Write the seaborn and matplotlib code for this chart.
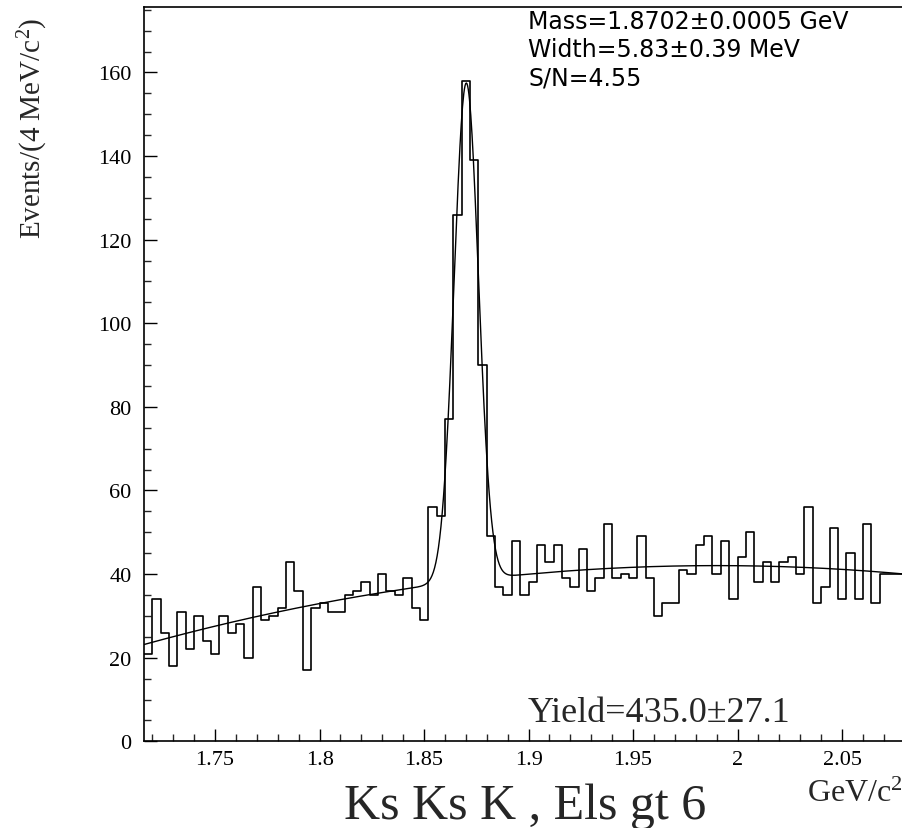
import numpy as np
import pandas as pd
import matplotlib
matplotlib.use("Agg")
import matplotlib.pyplot as plt
import seaborn as sns
from matplotlib.ticker import MultipleLocator

# ---------------- data ----------------
bin_low = 1.716          # GeV/c^2, left edge of first bin
bin_width = 0.004        # 4 MeV/c^2
counts = [21, 34, 26, 18, 31, 22, 30, 24, 21, 30, 26, 28, 20, 37, 29, 30, 32, 43, 36, 17,
          32, 33, 31, 31, 35, 36, 38, 35, 40, 36, 35, 39, 32, 29, 56, 54, 77, 126, 158, 139,
          90, 49, 37, 35, 48, 35, 38, 47, 43, 47, 39, 37, 46, 36, 39, 52, 39, 40, 39, 49,
          39, 30, 33, 33, 41, 40, 47, 49, 40, 48, 34, 44, 50, 38, 43, 38, 43, 44, 40, 56,
          33, 37, 51, 34, 45, 34, 52, 33, 40, 40, 40]

# fit parameters
fit_mass = 1.8702        # GeV
fit_sigma = 0.00583      # GeV
fit_yield = 435.0
bg_ref = 1.72
bg_coef = [23.7, 135.75, -251.3]   # quadratic background

x_ticks = [1.75, 1.8, 1.85, 1.9, 1.95, 2.0, 2.05]
x_ticklabels = ["1.75", "1.8", "1.85", "1.9", "1.95", "2", "2.05"]
y_ticks = [0, 20, 40, 60, 80, 100, 120, 140, 160]

stats_lines = ["Mass=1.8702\u00b10.0005 GeV", "Width=5.83\u00b10.39 MeV", "S/N=4.55"]
yield_text = "Yield=435.0\u00b127.1"
title_text = "Ks Ks K , Els gt 6"

# ---------------- build frames ----------------
nb = len(counts)
edges = bin_low + bin_width * np.arange(nb + 1)
centers = 0.5 * (edges[:-1] + edges[1:])
hist_df = pd.DataFrame({"mass": centers, "n": np.array(counts, dtype=float)})

xf = np.linspace(edges[0], edges[-1], 1200)
t = xf - bg_ref
bg = bg_coef[0] + bg_coef[1] * t + bg_coef[2] * t ** 2
amp = fit_yield * bin_width / (np.sqrt(2 * np.pi) * fit_sigma)
fit = bg + amp * np.exp(-0.5 * ((xf - fit_mass) / fit_sigma) ** 2)
fit_df = pd.DataFrame({"mass": xf, "fit": fit})

# ---------------- plot ----------------
sns.set_theme(style="ticks")
plt.rcParams["font.family"] = ["Liberation Serif", "DejaVu Serif"]
plt.rcParams["mathtext.fontset"] = "custom"
plt.rcParams["mathtext.rm"] = "Liberation Serif"
plt.rcParams["mathtext.it"] = "Liberation Serif"

W, H = 903, 829
fig = plt.figure(figsize=(W / 100, H / 100), dpi=100)
x0px, x1px = 144.0, 144.0 + 0.364 * 2090
ybot, ytop = 742.3, 8.0
ax = fig.add_axes([x0px / W, 1 - ybot / H, (x1px - x0px) / W, (ybot - ytop) / H])

sns.histplot(data=hist_df, x="mass", weights="n", binwidth=bin_width,
             binrange=(float(edges[0]), float(edges[-1])), element="step",
             fill=False, color="black", linewidth=1.2, ax=ax)
sns.lineplot(data=fit_df, x="mass", y="fit", color="black", linewidth=1.0, ax=ax)

ax.set_xlim(edges[0], edges[-1])
ax.set_ylim(0, (ybot - ytop) / 4.18)
ax.set_xlabel("")
ax.set_ylabel("")

ax.set_xticks(x_ticks)
ax.set_xticklabels(x_ticklabels)
ax.set_yticks(y_ticks)
ax.xaxis.set_minor_locator(MultipleLocator(0.01))
ax.yaxis.set_minor_locator(MultipleLocator(5))
ax.tick_params(axis="both", which="major", direction="in", length=9, width=1.0,
               labelsize=16, colors="black")
ax.tick_params(axis="both", which="minor", direction="in", length=5, width=1.0)
ax.tick_params(axis="x", which="major", pad=6)
ax.tick_params(axis="y", which="major", pad=9)
for s in ["left", "bottom", "top"]:
    ax.spines[s].set_visible(True)
    ax.spines[s].set_linewidth(1.2)
    ax.spines[s].set_color("black")
ax.spines["right"].set_visible(False)

# y label
fig.text(33 / W, 1 - 128 / H, "Events/(4 MeV/c$^{2}$)", rotation=90, ha="center",
         va="center", fontsize=21)
# x unit label
fig.text(903 / W, 1 - 802 / H, "GeV/c$^{2}$", ha="right", va="baseline", fontsize=23)
# title
fig.text(525 / W, 1 - 819 / H, title_text, ha="center", va="baseline", fontsize=36)
# yield
fig.text(528 / W, 1 - 722 / H, yield_text, ha="left", va="baseline", fontsize=26)
# stats box text
for i, line in enumerate(stats_lines):
    fig.text(528 / W, 1 - (22 + 28 * i) / H, line, ha="left", va="center",
             fontsize=17, family="DejaVu Sans", color="black")

fig.savefig("out.png", dpi=100)
